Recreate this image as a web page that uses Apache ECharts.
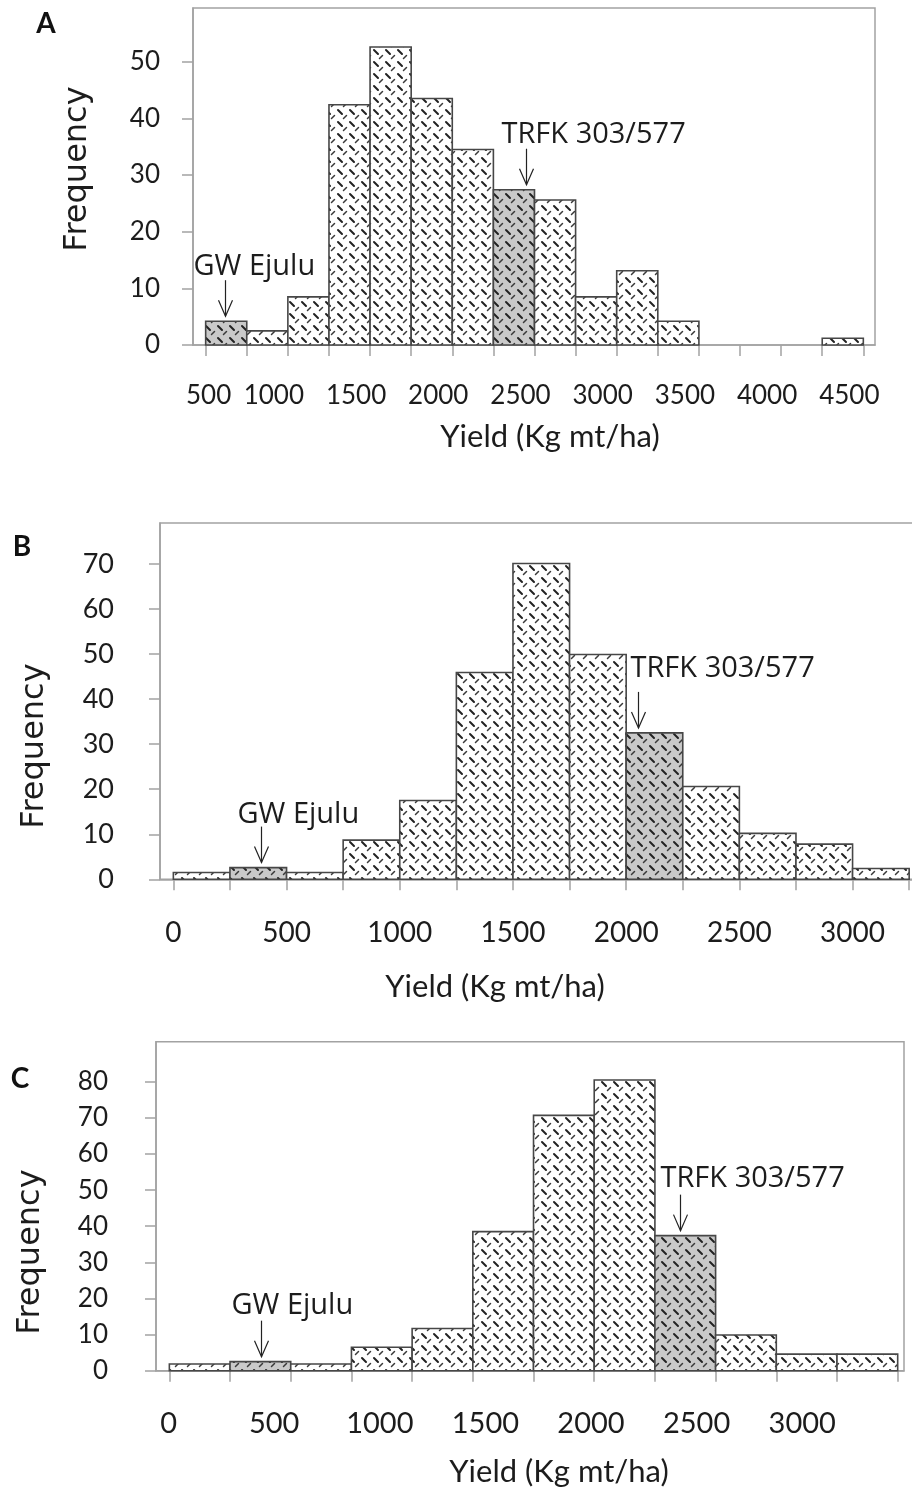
<!DOCTYPE html>
<html>
<head>
<meta charset="utf-8">
<script src="https://cdn.jsdelivr.net/npm/echarts@6/dist/echarts.min.js"></script>
<style>
html,body{margin:0;padding:0;background:#ffffff;}
#chart{width:912px;height:1495px;}
</style>
</head>
<body>
<div id="chart"></div>
<script>
// ---------------- DATA ----------------
// Panel A
const binEdgesA = [500, 750, 1000, 1250, 1500, 1750, 2000, 2250, 2500, 2750, 3000, 3250, 3500, 3750, 4000, 4250, 4500];
const freqA = [4.2, 2.5, 8.5, 42.4, 52.6, 43.5, 34.5, 27.4, 25.6, 8.5, 13.1, 4.2, 0, 0, 0, 1.2];
const markedBinsA = [0, 7];
const xLabelsA = [500, 1000, 1500, 2000, 2500, 3000, 3500, 4000, 4500];
const yTicksA = [0, 10, 20, 30, 40, 50];
const noteTextsA = ['GW Ejulu', 'TRFK 303/577'];
const noteYieldA = [617, 2446];

// Panel B
const binEdgesB = [0, 250, 500, 750, 1000, 1250, 1500, 1750, 2000, 2250, 2500, 2750, 3000, 3250];
const freqB = [1.5, 2.6, 1.5, 8.7, 17.5, 45.9, 70.1, 49.9, 32.5, 20.6, 10.2, 7.8, 2.4];
const markedBinsB = [1, 8];
const xLabelsB = [0, 500, 1000, 1500, 2000, 2500, 3000];
const yTicksB = [0, 10, 20, 30, 40, 50, 60, 70];
const noteTextsB = ['GW Ejulu', 'TRFK 303/577'];
const noteYieldB = [386, 2054];

// Panel C
const binEdgesC = [0, 250, 500, 750, 1000, 1250, 1500, 1750, 2000, 2250, 2500, 2750, 3000];
const freqC = [1.85, 2.5, 1.85, 6.5, 11.7, 38.5, 70.7, 80.5, 37.4, 9.9, 4.6, 4.6];
const markedBinsC = [1, 8];
const xLabelsC = [0, 500, 1000, 1500, 2000, 2500, 3000];
const yTicksC = [0, 10, 20, 30, 40, 50, 60, 70, 80];
const noteTextsC = ['GW Ejulu', 'TRFK 303/577'];
const noteYieldC = [378, 2103];

const panelLetters = ['A', 'B', 'C'];
const xTitle = 'Yield (Kg mt/ha)';
const yTitle = 'Frequency';

// ---------------- LAYOUT / STYLE ----------------
const layout = [
  { left: 193, top: 8, width: 682, height: 337, xMin: 423, xMax: 4571, yMax: 59.47,
    tickFont: 26, yLabelFont: 26, xMargin: 38, yMargin: 33, yLabelPad: [0, 0, 0, 0],
    notes: [{ dx: -32, dy: -13 }, { dx: -25, dy: -14 }],
    letter: [46, 24], yTitlePos: [78, 169], xTitlePos: [550, 437] },
  { left: 160, top: 523, width: 770, height: 356.3, xMin: -59, xMax: 3342, yMax: 79.1,
    tickFont: 28, yLabelFont: 27, xMargin: 40, yMargin: 46, yLabelPad: [20, 0, 0, 0],
    notes: [{ dx: -24, dy: -12 }, { dx: -8, dy: -23 }],
    letter: [22, 547], yTitlePos: [35, 746], xTitlePos: [495, 987] },
  { left: 156, top: 1041.7, width: 748, height: 329, xMin: -55, xMax: 3026, yMax: 91.1,
    tickFont: 29, yLabelFont: 26, xMargin: 38, yMargin: 48, yLabelPad: [0, 0, 0, 0],
    labelAxisMin: -59.7, labelAxisMax: 3482,
    notes: [{ dx: -30, dy: -15 }, { dx: -20, dy: -16 }],
    letter: [20, 1079], yTitlePos: [31, 1252], xTitlePos: [559, 1472] }
];

const axisGray = '#a2a2a2';
const textColor = '#1c1c1c';

function makePattern(bg) {
  const s = 12;
  const c = document.createElement('canvas');
  c.width = s; c.height = s;
  const g = c.getContext('2d');
  g.fillStyle = bg;
  g.fillRect(0, 0, s, s);
  g.strokeStyle = '#222222';
  g.lineCap = 'round';
  g.lineWidth = 2;
  g.beginPath(); g.moveTo(2, 2); g.lineTo(6, 6); g.stroke();
  g.strokeStyle = '#3a3a3a';
  g.lineWidth = 1.5;
  g.beginPath(); g.moveTo(7.5, 10.5); g.lineTo(10.5, 7.5); g.stroke();
  return { image: c, repeat: 'repeat' };
}
const plainFill = makePattern('#ffffff');
const markedFill = makePattern('#c9c9c9');

function barRenderer(params, api) {
  const c = api.value(2);
  if (!(c > 0)) return null;
  const p0 = api.coord([api.value(0), 0]);
  const p1 = api.coord([api.value(1), c]);
  return {
    type: 'rect',
    shape: { x: p0[0], y: p1[1], width: p1[0] - p0[0], height: p0[1] - p1[1] },
    style: { fill: api.value(3) ? markedFill : plainFill, stroke: '#474747', lineWidth: 1.6 }
  };
}

function noteRenderer(texts, lay) {
  return function (params, api) {
    const i = params.dataIndex;
    const p = api.coord([api.value(0), api.value(1)]);
    const x = Math.round(p[0]) + 0.5;
    const tip = p[1] - 5;
    const top = tip - 36;
    return {
      type: 'group',
      children: [
        { type: 'line', shape: { x1: x, y1: top, x2: x, y2: tip }, style: { stroke: '#222', lineWidth: 1.2 } },
        { type: 'polyline', shape: { points: [[x - 7, tip - 16], [x, tip], [x + 7, tip - 16]] },
          style: { stroke: '#222', lineWidth: 1.2, fill: null } },
        { type: 'text', x: x + lay[i].dx, y: top + lay[i].dy,
          style: { text: texts[i], fontFamily: 'Open Sans', fontSize: 29, fill: textColor,
                   align: 'left', verticalAlign: 'middle' } }
      ]
    };
  };
}

const panels = [
  { edges: binEdgesA, freq: freqA, marked: markedBinsA, xLabels: xLabelsA, yTicks: yTicksA, texts: noteTextsA, noteYield: noteYieldA },
  { edges: binEdgesB, freq: freqB, marked: markedBinsB, xLabels: xLabelsB, yTicks: yTicksB, texts: noteTextsB, noteYield: noteYieldB },
  { edges: binEdgesC, freq: freqC, marked: markedBinsC, xLabels: xLabelsC, yTicks: yTicksC, texts: noteTextsC, noteYield: noteYieldC }
];

function countAt(p, y) {
  for (let i = 0; i < p.freq.length; i++) {
    if (y >= p.edges[i] && y < p.edges[i + 1]) return p.freq[i];
  }
  return 0;
}
function plain(v) { return String(v); }

const grid = [], xAxis = [], yAxis = [], series = [], graphic = [];

panels.forEach(function (p, k) {
  const L = layout[k];
  grid.push({ left: L.left, top: L.top, width: L.width, height: L.height, show: true,
              borderColor: axisGray, borderWidth: 1.5, backgroundColor: 'transparent',
              containLabel: false, outerBoundsMode: 'none' });
  const xIdx = xAxis.length;
  const useLabelAxis = L.labelAxisMin !== undefined;
  const labelStyle = { fontFamily: 'Lato', fontSize: L.tickFont, color: textColor, formatter: plain };
  const xLabelCfg = useLabelAxis ? { show: false } : Object.assign({
    customValues: p.xLabels, margin: L.xMargin
  }, labelStyle);
  if (k === 0) {
    xLabelCfg.formatter = function (v) { return v === p.xLabels[0] ? '{a|' + v + '}' : '{b|' + v + '}'; };
    xLabelCfg.rich = {
      a: { fontFamily: 'Lato', fontSize: L.tickFont, color: textColor, padding: [0, 0, 0, 6] },
      b: { fontFamily: 'Lato', fontSize: L.tickFont, color: textColor, padding: [0, 28, 0, 0] }
    };
  }
  xAxis.push({
    gridIndex: k, type: 'value', position: 'bottom', min: L.xMin, max: L.xMax,
    axisLine: { show: true, onZero: false, lineStyle: { color: axisGray, width: 1.5 } },
    axisTick: { show: true, inside: false, length: 11, customValues: p.edges, lineStyle: { color: axisGray, width: 1.5 } },
    axisLabel: xLabelCfg,
    splitLine: { show: false }
  });
  if (useLabelAxis) {
    xAxis.push({
      gridIndex: k, type: 'value', position: 'bottom', min: L.labelAxisMin, max: L.labelAxisMax,
      axisLine: { show: false, onZero: false }, axisTick: { show: false },
      axisLabel: Object.assign({ customValues: p.xLabels, margin: L.xMargin }, labelStyle),
      splitLine: { show: false }
    });
  }
  const yIdx = yAxis.length;
  yAxis.push({
    gridIndex: k, type: 'value', min: 0, max: L.yMax,
    axisLine: { show: true, onZero: false, lineStyle: { color: axisGray, width: 1.5 } },
    axisTick: { show: true, inside: false, length: 11, customValues: p.yTicks, lineStyle: { color: axisGray, width: 1.5 } },
    axisLabel: { customValues: p.yTicks, margin: L.yMargin, fontFamily: 'Lato', fontSize: L.yLabelFont,
                 color: textColor, padding: L.yLabelPad, formatter: plain },
    splitLine: { show: false }
  });

  const barData = p.freq.map(function (f, i) {
    return [p.edges[i], p.edges[i + 1], f, p.marked.indexOf(i) >= 0 ? 1 : 0];
  });
  series.push({
    type: 'custom', xAxisIndex: xIdx, yAxisIndex: yIdx, renderItem: barRenderer,
    encode: { x: [0, 1], y: 2 }, data: barData, silent: true
  });
  series.push({
    type: 'custom', xAxisIndex: xIdx, yAxisIndex: yIdx, renderItem: noteRenderer(p.texts, L.notes),
    encode: { x: 0, y: 1 }, clip: false, silent: true, z: 5,
    data: p.noteYield.map(function (y) { return [y, countAt(p, y)]; })
  });

  graphic.push({ type: 'text', x: L.letter[0], y: L.letter[1],
    style: { text: panelLetters[k], fontFamily: 'Lato', fontWeight: 'bold', fontSize: 28, fill: '#111',
             align: 'center', verticalAlign: 'middle' } });
  graphic.push({ type: 'text', x: L.yTitlePos[0], y: L.yTitlePos[1], rotation: Math.PI / 2,
    style: { text: yTitle, fontFamily: 'DejaVu Sans', fontSize: 32, fill: textColor,
             align: 'center', verticalAlign: 'middle' } });
  graphic.push({ type: 'text', x: L.xTitlePos[0], y: L.xTitlePos[1],
    style: { text: xTitle, fontFamily: 'Lato', fontSize: 31, fill: textColor,
             align: 'center', verticalAlign: 'middle' } });
});

const chart = echarts.init(document.getElementById('chart'), null, { renderer: 'canvas' });
chart.setOption({
  animation: false,
  backgroundColor: '#ffffff',
  grid: grid,
  xAxis: xAxis,
  yAxis: yAxis,
  series: series,
  graphic: graphic
});
</script>
</body>
</html>
